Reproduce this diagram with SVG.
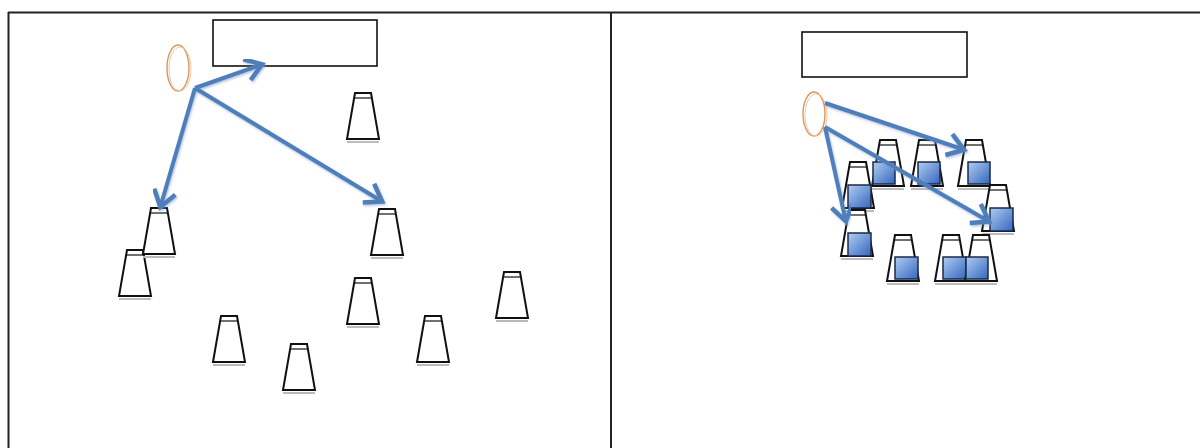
<svg xmlns="http://www.w3.org/2000/svg" xmlns:xlink="http://www.w3.org/1999/xlink" width="1200" height="448" viewBox="0 0 1200 448">
<style>
.frame{stroke:#222;stroke-width:2;fill:none}
.box{fill:#fff;stroke:#111;stroke-width:1.6}
.cone{fill:#fff;stroke:#111;stroke-width:2;stroke-linejoin:miter}
.rim{stroke:#111;stroke-width:1.2}
.shadow{stroke:#bbb;stroke-width:2}
.ell{fill:none;stroke:#d9955e;stroke-width:1.4}
.ell2{fill:none;stroke:#f0c9a3;stroke-width:1}
.sq{fill:url(#blue);stroke:#1a2a4a;stroke-width:1.5}
.arr{fill:none;stroke:#4f7fba;stroke-width:4;stroke-linecap:butt;marker-end:url(#head);filter:url(#sh)}
</style>
<defs>
<linearGradient id="blue" x1="0" y1="0" x2="1" y2="1">
<stop offset="0" stop-color="#b0cef3"/>
<stop offset="1" stop-color="#3566bd"/>
</linearGradient>
<filter id="sh" x="-20%" y="-20%" width="140%" height="140%">
<feDropShadow dx="1" dy="1.5" stdDeviation="1.2" flood-color="#7f9ccc" flood-opacity="0.6"/>
</filter>
<marker id="head" markerUnits="userSpaceOnUse" markerWidth="40" markerHeight="40" viewBox="-25 -20 40 40" refX="0" refY="0" orient="auto" overflow="visible">
<path d="M-17,-11 L-1,0 L-17,11" fill="none" stroke="#4f7fba" stroke-width="4.5" stroke-linejoin="miter"/>
</marker>
<g id="cup">
<line class="shadow" x1="-16" y1="49" x2="16" y2="49"/>
<path class="cone" d="M-8,0 L8,0 L16,46 L-16,46 Z"/>
<line class="rim" x1="-8.8" y1="5" x2="8.8" y2="5"/>
</g>
</defs>

<g id="frame">
<line class="frame" x1="8" y1="12.5" x2="1200" y2="12.5"/>
<line class="frame" x1="8.5" y1="12" x2="8.5" y2="448"/>
<line class="frame" x1="611" y1="12" x2="611" y2="448"/>
</g>

<!-- Left panel -->
<g id="left-box"><rect class="box" x="213" y="20" width="164" height="46"/></g>
<g id="left-person"><ellipse class="ell" cx="178" cy="68" rx="11" ry="23"/><ellipse class="ell2" cx="180" cy="69" rx="11" ry="22"/></g>
<g id="left-cup-1"><use xlink:href="#cup" x="363" y="93"/></g>
<g id="left-cup-2"><use xlink:href="#cup" x="135" y="250"/></g>
<g id="left-cup-3"><use xlink:href="#cup" x="159" y="208"/></g>
<g id="left-cup-4"><use xlink:href="#cup" x="387" y="209"/></g>
<g id="left-cup-5"><use xlink:href="#cup" x="229" y="316"/></g>
<g id="left-cup-6"><use xlink:href="#cup" x="299" y="344"/></g>
<g id="left-cup-7"><use xlink:href="#cup" x="363" y="278"/></g>
<g id="left-cup-8"><use xlink:href="#cup" x="433" y="316"/></g>
<g id="left-cup-9"><use xlink:href="#cup" x="512" y="272"/></g>

<!-- Right panel -->
<g id="right-box"><rect class="box" x="802" y="32" width="165" height="45"/></g>
<g id="right-person"><ellipse class="ell" cx="814" cy="114" rx="11" ry="22"/><ellipse class="ell2" cx="816" cy="115" rx="11" ry="21"/></g>
<g id="right-cup-1"><use xlink:href="#cup" x="888" y="140"/><rect class="sq" x="873" y="162" width="22" height="22"/></g>
<g id="right-cup-2"><use xlink:href="#cup" x="927" y="140"/><rect class="sq" x="918" y="162" width="22" height="22"/></g>
<g id="right-cup-3"><use xlink:href="#cup" x="974" y="140"/><rect class="sq" x="968" y="162" width="22" height="22"/></g>
<g id="right-cup-4"><use xlink:href="#cup" x="858" y="162"/><rect class="sq" x="848" y="185" width="23" height="23"/></g>
<g id="right-cup-5"><use xlink:href="#cup" x="998" y="185"/><rect class="sq" x="990" y="208" width="23" height="23"/></g>
<g id="right-cup-6"><use xlink:href="#cup" x="857" y="210"/><rect class="sq" x="848" y="233" width="23" height="23"/></g>
<g id="right-cup-7"><use xlink:href="#cup" x="903" y="235"/><rect class="sq" x="895" y="257" width="23" height="22"/></g>
<g id="right-cup-8"><use xlink:href="#cup" x="951" y="235"/><rect class="sq" x="943" y="257" width="23" height="22"/></g>
<g id="right-cup-9"><use xlink:href="#cup" x="981" y="235"/><rect class="sq" x="966" y="257" width="22" height="22"/></g>

<g id="connectors">
<line class="arr" x1="195" y1="88" x2="263" y2="64"/>
<line class="arr" x1="195" y1="88" x2="160" y2="208"/>
<line class="arr" x1="195" y1="88" x2="383" y2="202"/>
<line class="arr" x1="825" y1="103" x2="965" y2="150"/>
<line class="arr" x1="825" y1="127" x2="990" y2="222"/>
<line class="arr" x1="825" y1="127" x2="846" y2="222"/>
</g>
</svg>
